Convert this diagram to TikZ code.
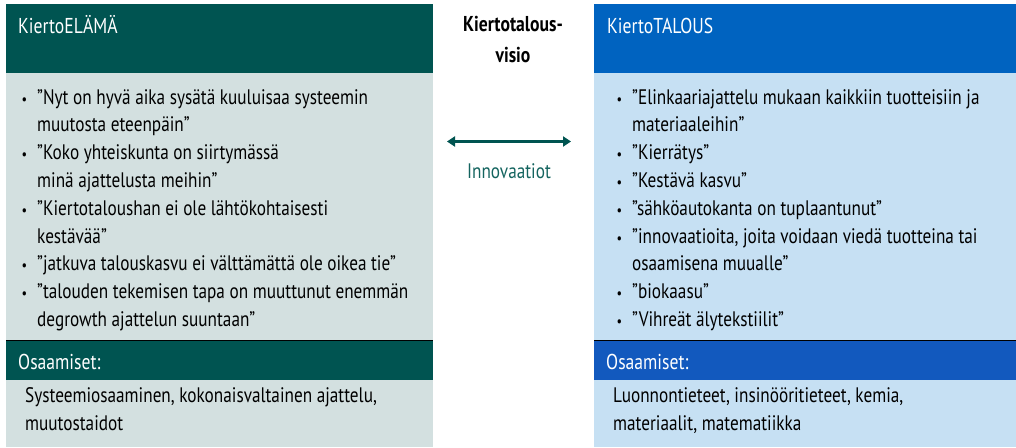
\documentclass[tikz,border=0pt]{standalone}
\usepackage{fontspec}
\setmainfont[FakeStretch=0.82]{PT Sans}
\usepackage{tikz}
\usetikzlibrary{arrows.meta, positioning}
\definecolor{elamadark}{RGB}{0,84,81}
\definecolor{elamalight}{RGB}{211,224,224}
\definecolor{talousdark}{RGB}{0,99,192}
\definecolor{talousmid}{RGB}{18,89,190}
\definecolor{talouslight}{RGB}{198,224,243}
\definecolor{innocolor}{RGB}{20,100,95}
\newcommand{\bul}{\llap{{\fontsize{15}{15}\selectfont•}\hspace{10pt}}}

\begin{document}
\begin{tikzpicture}[
    x=1pt, y=-1pt,
    panel/.style={draw=none, inner sep=0pt, outer sep=0pt, anchor=north west},
    leftpanel/.style={panel, minimum width=427pt},
    rightpanel/.style={panel, minimum width=422pt},
    headtext/.style={text=white, font=\fontsize{21.5}{28}\selectfont, anchor=base west, inner sep=0pt},
    bodytext/.style={font=\fontsize{21}{27.8}\selectfont, anchor=base west, inner sep=0pt, align=left},
    link/.style={{Triangle[length=8pt, width=10pt]}-{Triangle[length=8pt, width=10pt]}, line width=2.2pt, draw=elamadark}
]
    \useasboundingbox (0,0) rectangle (1016,447);

    % KiertoELÄMÄ column
    \node[leftpanel, fill=elamadark, minimum height=68.5pt] (elamahead) at (6,4) {};
    \node[leftpanel, fill=elamalight, minimum height=267.5pt] (elamabody) at (6,72.5) {};
    \node[leftpanel, fill=elamadark, minimum height=40pt] (elamaskillhead) at (6,340) {};
    \node[leftpanel, fill=elamalight, minimum height=67pt] (elamaskill) at (6,380) {};
    \draw[line width=1pt] (elamabody.south west) -- (elamabody.south east);

    % KiertoTALOUS column
    \node[rightpanel, fill=talousdark, minimum height=68.5pt] (taloushead) at (594,4) {};
    \node[rightpanel, fill=talouslight, minimum height=267.5pt] (talousbody) at (594,72.5) {};
    \node[rightpanel, fill=talousmid, minimum height=40pt] (talousskillhead) at (594,340) {};
    \node[rightpanel, fill=talouslight, minimum height=67pt] (talousskill) at (594,380) {};
    \draw[line width=1pt] (talousbody.south west) -- (talousbody.south east);

    % Headings
    \node[headtext] (elamatitle) at (18,33) {KiertoELÄMÄ};
    \node[headtext] (taloustitle) at (607,33) {KiertoTALOUS};
    \node[headtext] (elamaskilltitle) at (18,369) {Osaamiset:};
    \node[headtext] (talousskilltitle) at (606,369) {Osaamiset:};

    % Bullet lists (anchored at the last baseline)
    \node[bodytext] (elamalist) at (37,326.4) {%
        \bul”Nyt on hyvä aika sysätä kuuluisaa systeemin\\
        muutosta eteenpäin”\\
        \bul”Koko yhteiskunta on siirtymässä\\
        minä ajattelusta meihin”\\
        \bul”Kiertotaloushan ei ole lähtökohtaisesti\\
        kestävää”\\
        \bul”jatkuva talouskasvu ei välttämättä ole oikea tie”\\
        \bul”talouden tekemisen tapa on muuttunut enemmän\\
        degrowth ajattelun suuntaan”};
    \node[bodytext] (talouslist) at (632,326.4) {%
        \bul”Elinkaariajattelu mukaan kaikkiin tuotteisiin ja\\
        materiaaleihin”\\
        \bul”Kierrätys”\\
        \bul”Kestävä kasvu”\\
        \bul”sähköautokanta on tuplaantunut”\\
        \bul”innovaatioita, joita voidaan viedä tuotteina tai\\
        osaamisena muualle”\\
        \bul”biokaasu”\\
        \bul”Vihreät älytekstiilit”};

    % Skills
    \node[bodytext] (elamaskills) at (25,430) {Systeemiosaaminen, kokonaisvaltainen ajattelu,\\muutostaidot};
    \node[bodytext] (talousskills) at (613,430) {Luonnontieteet, insinööritieteet, kemia,\\materiaalit, matematiikka};

    % Middle
    \node[font=\bfseries\fontsize{21.5}{31}\selectfont, align=center, inner sep=0pt, anchor=base] (vision) at (513,62) {Kiertotalous-\\visio};
    \coordinate (arrowL) at (447,141.5);
    \coordinate (arrowR) at (571,141.5);
    \draw[link] (arrowL) -- (arrowR);
    \node[text=innocolor, font=\fontsize{21}{28}\selectfont, inner sep=0pt, anchor=base] (innovation) at (509,178) {Innovaatiot};
\end{tikzpicture}
\end{document}
